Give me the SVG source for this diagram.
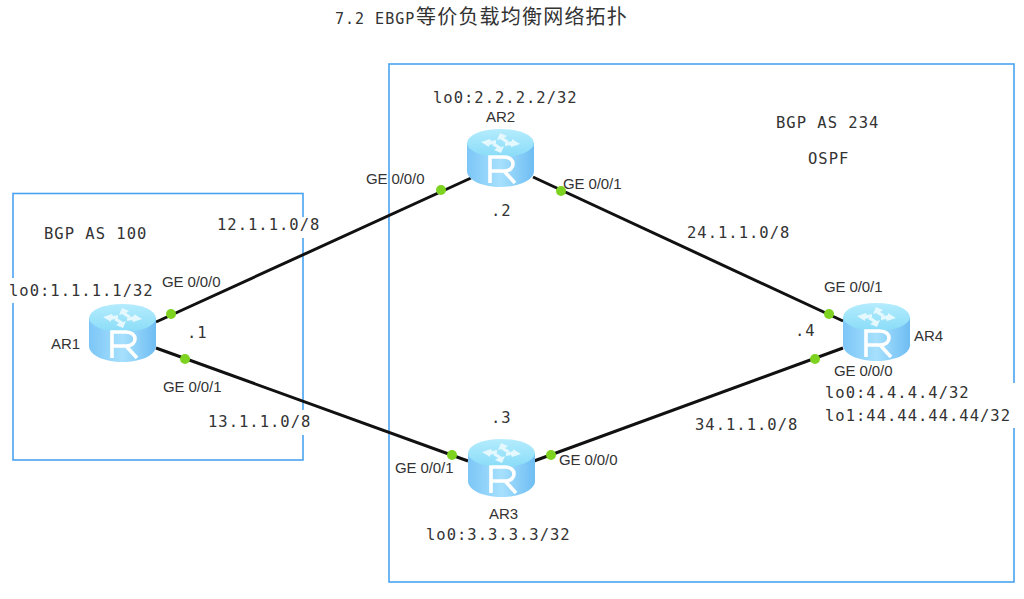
<svg xmlns="http://www.w3.org/2000/svg" width="1024" height="599" viewBox="0 0 1024 599">
<style>
.zone{fill:none;stroke:#4aa3f0;stroke-width:1.6}
.link{fill:none;stroke:#111;stroke-width:3}
.dot{fill:#7ed321}
.mono{font-family:"DejaVu Sans Mono","Liberation Mono",monospace;font-size:15.5px;letter-spacing:1px;fill:#333}
.sans{font-family:"Liberation Sans",Arial,sans-serif;font-size:15px;letter-spacing:-.1px;fill:#333}
.title{font-family:"DejaVu Sans Mono","Liberation Mono",monospace;font-size:15px;letter-spacing:1px;fill:#333}
.cjk{font-family:"Noto Sans CJK SC",sans-serif;font-size:20px;letter-spacing:1.2px;fill:#333}
.mask{fill:#fff}
</style>
<defs>
<linearGradient id="body" x1="0" x2="1" y1="0" y2="0">
<stop offset="0" stop-color="#7cc6f7"/><stop offset=".5" stop-color="#a6e0fd"/><stop offset="1" stop-color="#6fbdf3"/>
</linearGradient>
<linearGradient id="top" x1="0" x2="0" y1="0" y2="1">
<stop offset="0" stop-color="#b4ecfd"/><stop offset="1" stop-color="#8adcf8"/>
</linearGradient>
<g id="router">
<path d="M0 14V42C0 51 15 58 33.500 58S67 51 67 42V14Z" fill="url(#body)"/>
<ellipse cx="33.500" cy="14" rx="33.500" ry="14" fill="url(#top)"/>
<path d="M33 4l7 3-3 2 5 3-3 2-6-4-3 1ZM14 13l9-3 1 2 5-1v3l-7 2 0 2ZM53 15l-9 3-1-2-5 1v-3l7-2 0-2ZM34 24l-7-3 3-2-5-3 3-2 6 4 3-1Z" fill="#e4f8fe"/>
<path d="M23 54V28H37C49 28 49 42 37 42H23M37 42L48 54" fill="none" stroke="#fff" stroke-width="3.600"/>
</g>
</defs>

<g id="zones">
<rect id="as100" class="zone" x="13" y="193.500" width="290" height="266.500"/>
<rect id="as234" class="zone" x="389" y="64" width="625" height="518"/>
<rect class="mask" x="5" y="278" width="152" height="25"/>
<rect class="mask" x="215" y="217" width="105" height="21"/>
<rect class="mask" x="206" y="410" width="107" height="25"/>
<rect class="mask" x="824" y="383" width="195" height="45"/>
</g>

<g id="connectors">
<path id="l12" class="link" d="M156 322L471 178"/>
<path id="l13" class="link" d="M156 348L468 461"/>
<path id="l24" class="link" d="M533 177L843 321"/>
<path id="l34" class="link" d="M534 461L843 348"/>
<circle class="dot" cx="171" cy="314" r="5"/>
<circle class="dot" cx="185" cy="359" r="5"/>
<circle class="dot" cx="441" cy="190" r="5"/>
<circle class="dot" cx="561" cy="191" r="5"/>
<circle class="dot" cx="452" cy="455" r="5"/>
<circle class="dot" cx="551" cy="455" r="5"/>
<circle class="dot" cx="829" cy="314" r="5"/>
<circle class="dot" cx="815" cy="359" r="5"/>
</g>

<g id="AR1"><use href="#router" x="89" y="304"/><text class="sans" x="51" y="349">AR1</text></g>
<g id="AR2"><use href="#router" x="467" y="129"/><text class="sans" x="486" y="122">AR2</text></g>
<g id="AR3"><use href="#router" x="468" y="439"/><text class="sans" x="489" y="519">AR3</text></g>
<g id="AR4"><use href="#router" x="843" y="303"/><text class="sans" x="914" y="341">AR4</text></g>

<g id="labels">
<text x="335" y="24" class="title">7.2 EBGP</text>
<text x="416" y="24" class="cjk">等价负载均衡网络拓扑</text>
<text x="44" y="239" class="mono">BGP AS 100</text>
<text x="9" y="296" class="mono">lo0:1.1.1.1/32</text>
<text x="217" y="230" class="mono">12.1.1.0/8</text>
<text x="208" y="427" class="mono">13.1.1.0/8</text>
<text x="433" y="103" class="mono">lo0:2.2.2.2/32</text>
<text x="426" y="540" class="mono">lo0:3.3.3.3/32</text>
<text x="776" y="128" class="mono">BGP AS 234</text>
<text x="808" y="164" class="mono">OSPF</text>
<text x="687" y="238" class="mono">24.1.1.0/8</text>
<text x="695" y="430" class="mono">34.1.1.0/8</text>
<text x="825" y="398" class="mono">lo0:4.4.4.4/32</text>
<text x="825" y="421" class="mono">lo1:44.44.44.44/32</text>
<text x="187" y="338" class="mono">.1</text>
<text x="491" y="216" class="mono">.2</text>
<text x="491" y="423" class="mono">.3</text>
<text x="795" y="336" class="mono">.4</text>
<text x="162" y="287" class="sans">GE 0/0/0</text>
<text x="163" y="392" class="sans">GE 0/0/1</text>
<text x="366" y="184" class="sans">GE 0/0/0</text>
<text x="563" y="189" class="sans">GE 0/0/1</text>
<text x="395" y="473" class="sans">GE 0/0/1</text>
<text x="559" y="465" class="sans">GE 0/0/0</text>
<text x="824" y="292" class="sans">GE 0/0/1</text>
<text x="834" y="376" class="sans">GE 0/0/0</text>
</g>
</svg>
